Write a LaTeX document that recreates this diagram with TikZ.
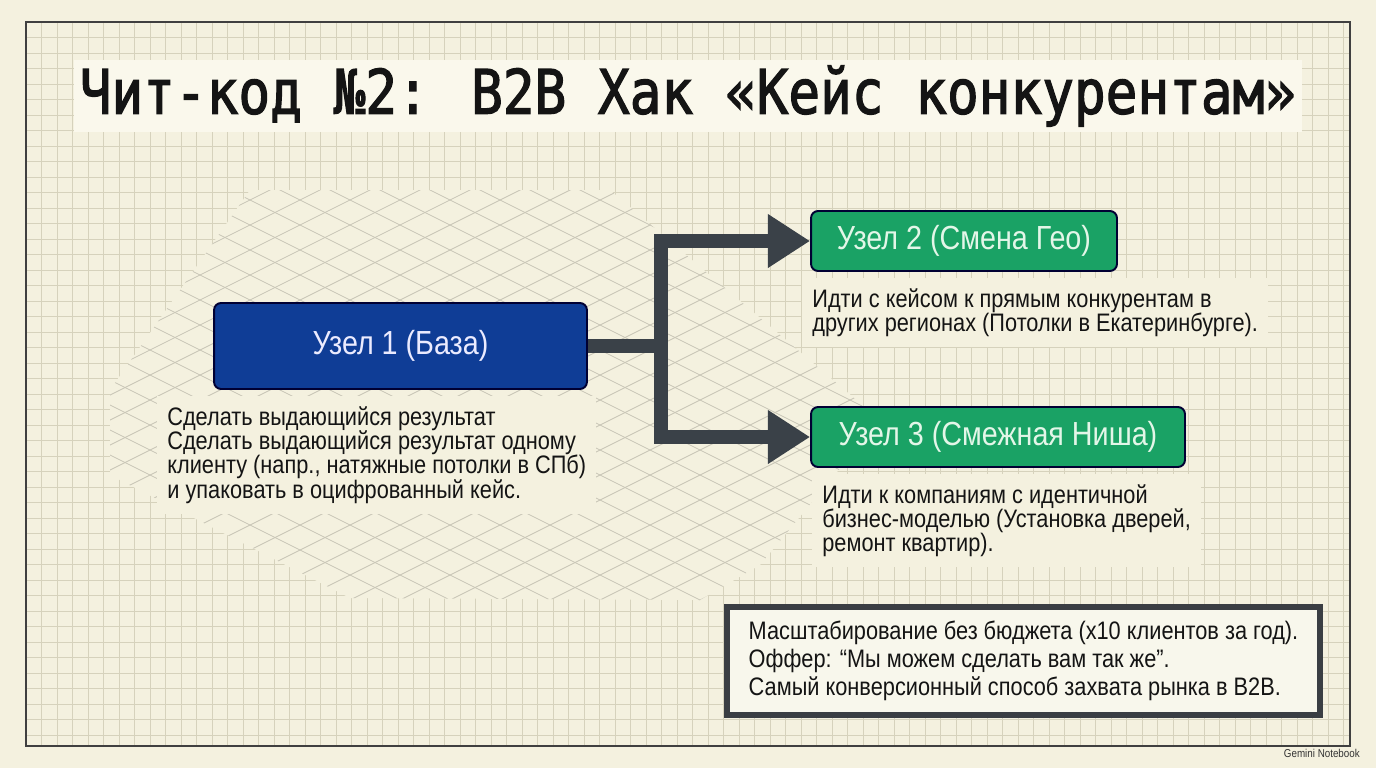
\documentclass[tikz,border=0pt]{standalone}
\usepackage{fontspec}
\setmainfont{Liberation Sans}[FakeStretch=0.86]
\newfontfamily\titlefont{DejaVu Sans Mono}[FakeBold=2.2]
\usetikzlibrary{arrows.meta,positioning}

\definecolor{paper}{HTML}{F4F1DF}
\definecolor{gridclr}{HTML}{D6D2BC}
\definecolor{latclr}{HTML}{C9C6B7}
\definecolor{titlepaper}{HTML}{FAF8EC}
\definecolor{baseblue}{HTML}{0F3D96}
\definecolor{nodegreen}{HTML}{1AA265}
\definecolor{mint}{HTML}{E3F6E8}
\definecolor{connclr}{HTML}{3A4148}
\definecolor{boxedge}{HTML}{3A3E43}
\definecolor{ink}{HTML}{141414}

\begin{document}
\begin{tikzpicture}[
  x=0.02cm, y=-0.02cm,
  gridline/.style={draw=gridclr, line width=0.45pt},
  latline/.style={draw=latclr, line width=0.5pt},
  nodebox/.style={draw=black!80!blue, line width=1.1pt, rounded corners=4pt, align=center, font=\fontsize{19}{21}\selectfont},
  bluebox/.style={nodebox, fill=baseblue, text=white!92!blue, minimum width=7.46cm, minimum height=1.72cm},
  greenbox/.style={nodebox, fill=nodegreen, text=mint, minimum height=1.2cm},
  desc/.style={fill=paper, align=left, inner sep=0.2cm, anchor=north west, text=ink, font=\fontsize{14.4}{13.9}\selectfont},
  note/.style={draw=boxedge, line width=3pt, fill=paper!60!white, align=left, minimum width=11.86cm, minimum height=2.16cm, text=ink, font=\fontsize{14.4}{15.9}\selectfont},
  conn/.style={line width=7.9pt, draw=connclr, -{Triangle[length=24pt,width=29pt]}},
  bar/.style={line width=7.9pt, draw=connclr}
]
\useasboundingbox (0,0) rectangle (1376,768);
\fill[paper] (0,0) rectangle (1376,768);

% square grid
\foreach \i in {1,...,85}
  \draw[gridline] ({26+15.5*\i},22) -- ({26+15.5*\i},746);
\foreach \j in {1,...,46}
  \draw[gridline] (26,{22+15.5*\j}) -- (1350,{22+15.5*\j});

% diagonal lattice
\begin{scope}
  \clip (250,190) -- (610,190) -- (880,420) -- (760,565) -- (700,600) -- (350,598) -- (110,475) -- (110,390) -- cycle;
  \fill[paper] (0,0) rectangle (1376,768);
  \foreach \c in {-300,-275,...,1100} {
    \draw[latline] (0,\c) -- (1376,{\c+688});
    \draw[latline] (0,\c) -- (1376,{\c-688});
  }
\end{scope}

\draw[line width=1.2pt, draw=black!75] (26,22) rectangle (1350,746);

% title
\node[fill=titlepaper, minimum width=24.5cm, minimum height=1.4cm, text=ink] (title) at (688,96)
  {\titlefont\fontsize{30}{30}\selectfont\scalebox{1}[1.16]{Чит-код №2: B2B Хак «Кейс конкурентам»}};

% nodes
\node[bluebox] (base) at (400.5,346) {Узел 1 (База)};
\node[greenbox, minimum width=6.12cm] (geo) at (964,241) {Узел 2 (Смена Гео)};
\node[greenbox, minimum width=7.48cm] (niche) at (998,437) {Узел 3 (Смежная Ниша)};

\node[desc] (basetxt) at (157,396) {Сделать выдающийся результат\\Сделать выдающийся результат одному\\клиенту (напр., натяжные потолки в СПб)\\и упаковать в оцифрованный кейс.};
\node[desc] (geotxt) at (802,278) {Идти с кейсом к прямым конкурентам в\\других регионах (Потолки в Екатеринбурге).};
\node[desc] (nichetxt) at (812,474) {Идти к компаниям с идентичной\\бизнес-моделью (Установка дверей,\\ремонт квартир).};

\node[note] (summary) at (1023.5,661) {Масштабирование без бюджета (x10 клиентов за год).\\Оффер: “Мы можем сделать вам так же”.\\Самый конверсионный способ захвата рынка в B2B.};

% connectors
\coordinate (split) at (661,346);
\draw[bar] (base.east) -- (split);
\draw[conn] (split) |- (geo.west);
\draw[conn] (split) |- (niche.west);

\node[anchor=east, font=\fontsize{6.5}{7}\selectfont, text=black!80] (brand) at (1366,753) {Gemini Notebook};
\end{tikzpicture}
\end{document}
